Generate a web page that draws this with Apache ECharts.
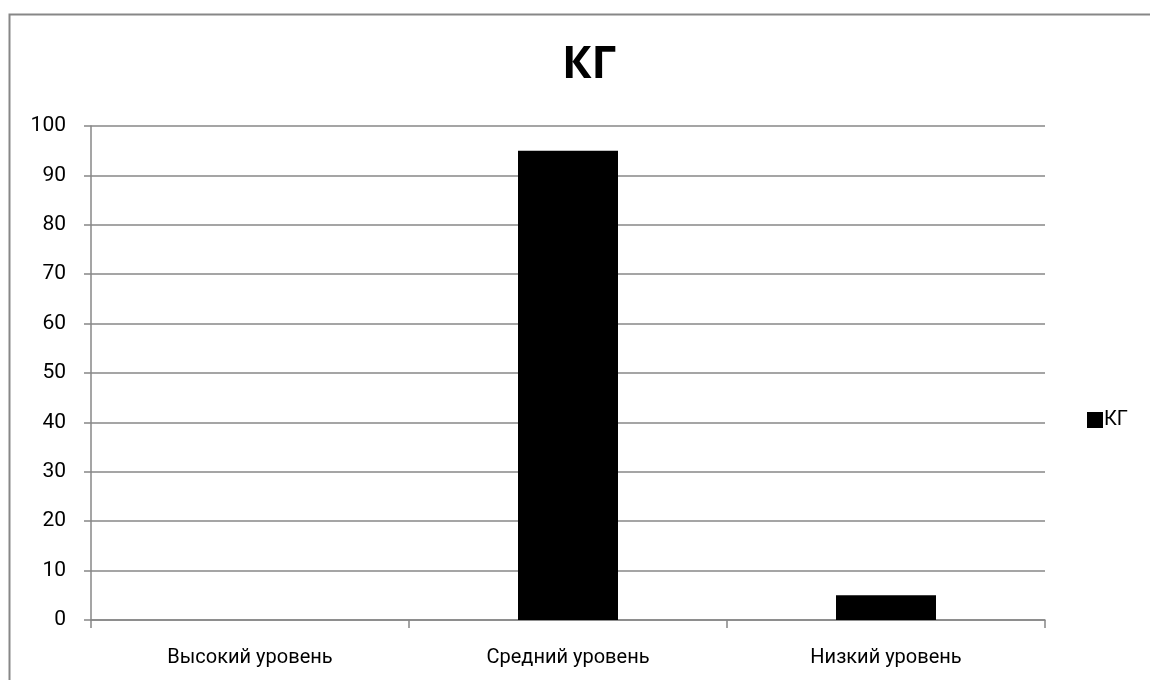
<!DOCTYPE html>
<html>
<head>
<meta charset="utf-8">
<script src="https://cdn.jsdelivr.net/npm/echarts@6/dist/echarts.min.js"></script>
<style>
  html, body { margin: 0; padding: 0; background: #fff; }
  #chart { width: 1150px; height: 680px; }
</style>
</head>
<body>
<div id="chart"></div>
<script>
// Уровни и доли группы КГ (%)
const categories = ['Высокий уровень', 'Средний уровень', 'Низкий уровень'];
const kgValues = [0, 95, 5];
const seriesName = 'КГ';
const yTicks = { min: 0, max: 100, step: 10 };

const FONT = 'Roboto, "Open Sans", sans-serif';
const TITLE_FONT = '"Open Sans", sans-serif';
const GRAY = '#878787';

const chart = echarts.init(document.getElementById('chart'));
chart.setOption({
  backgroundColor: '#fff',
  animation: false,
  graphic: [{
    type: 'rect',
    shape: { x: 9.5, y: 14.5, width: 1160, height: 700 },
    style: { fill: 'none', stroke: GRAY, lineWidth: 2 },
    silent: true
  }],
  title: {
    text: seriesName,
    left: 562,
    top: 43,
    padding: 0,
    textStyle: { fontFamily: TITLE_FONT, fontSize: 44, fontWeight: 'bold', color: '#000' }
  },
  legend: {
    data: [seriesName],
    orient: 'vertical',
    left: 1087,
    top: 410,
    padding: 0,
    itemWidth: 16,
    itemHeight: 16,
    itemGap: 4,
    icon: 'rect',
    textStyle: { fontFamily: FONT, fontSize: 20, color: '#000', padding: [0, 0, 0, -4] }
  },
  grid: { left: 91, right: 105, top: 126, bottom: 60, containLabel: false },
  xAxis: {
    type: 'category',
    data: categories,
    axisLine: { lineStyle: { color: GRAY, width: 1.5 } },
    axisTick: { show: true, length: 8, alignWithLabel: false, lineStyle: { color: GRAY, width: 1.5 } },
    axisLabel: { fontFamily: FONT, fontSize: 20, color: '#000', margin: 28 },
    splitLine: { show: false }
  },
  yAxis: {
    type: 'value',
    min: yTicks.min,
    max: yTicks.max,
    interval: yTicks.step,
    axisLine: { show: true, lineStyle: { color: GRAY, width: 1.5 } },
    axisTick: { show: true, length: 7, lineStyle: { color: GRAY, width: 1.5 } },
    axisLabel: { fontFamily: FONT, fontSize: 21, color: '#000', margin: 25 },
    splitLine: { show: true, lineStyle: { color: GRAY, width: 1.5 } }
  },
  series: [{
    name: seriesName,
    type: 'bar',
    data: kgValues,
    barWidth: 100,
    itemStyle: { color: '#000' }
  }]
});
</script>
</body>
</html>
